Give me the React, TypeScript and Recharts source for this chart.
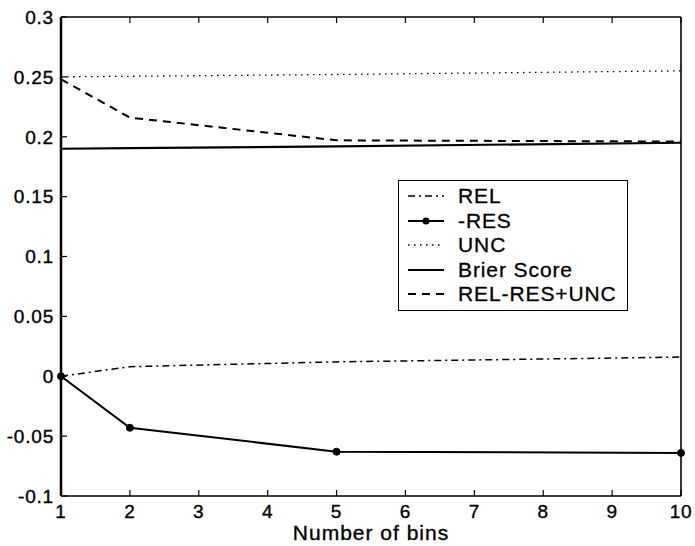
import React from 'react';
import { LineChart, Line, XAxis, YAxis, Legend } from 'recharts';

const bins = [1, 2, 5, 10];
const rel = [0, 0.008, 0.012, 0.016];
const negRes = [0, -0.043, -0.063, -0.064];
const unc = [0.25, 0.2505, 0.252, 0.255];
const brier = [0.19, 0.1905, 0.192, 0.195];
const relResUnc = [0.248, 0.216, 0.197, 0.196];

const xTicks = [1, 2, 3, 4, 5, 6, 7, 8, 9, 10];
const yTicks = [-0.1, -0.05, 0, 0.05, 0.1, 0.15, 0.2, 0.25, 0.3];

const data = bins.map((b, i) => ({
  bins: b,
  rel: rel[i],
  negRes: negRes[i],
  unc: unc[i],
  brier: brier[i],
  relResUnc: relResUnc[i],
}));

const font = '"Liberation Sans", Arial, sans-serif';

// legend order follows this list
const series = [
  { key: 'rel', name: 'REL', dash: '7 4 2 4', width: 1.5, dot: false },
  { key: 'negRes', name: '-RES', dash: undefined, width: 2, dot: true },
  { key: 'unc', name: 'UNC', dash: '1.5 4.5', width: 1.3, dot: false },
  { key: 'brier', name: 'Brier Score', dash: undefined, width: 2.2, dot: false },
  { key: 'relResUnc', name: 'REL-RES+UNC', dash: '8 6', width: 2, dot: false },
];

const BottomTick = ({ x, y, payload }: any) => (
  <g>
    <line x1={x} x2={x} y1={y} y2={y - 6} stroke="#000" strokeWidth={1.2} />
    <text x={x} y={y + 22} textAnchor="middle" fontSize={19} fill="#000" stroke="#000" strokeWidth={0.35}
      fontFamily={font} letterSpacing={0.8}>
      {payload.value}
    </text>
  </g>
);

const LeftTick = ({ x, y, payload }: any) => (
  <g>
    <line x1={x} x2={x + 6} y1={y} y2={y} stroke="#000" strokeWidth={1.2} />
    <text x={x - 7} y={y} dy="0.36em" textAnchor="end" fontSize={19} fill="#000" stroke="#000" strokeWidth={0.35}
      fontFamily={font} letterSpacing={0.8}>
      {payload.value}
    </text>
  </g>
);

const TopTick = ({ x, y }: any) => (
  <line x1={x} x2={x} y1={y} y2={y + 6} stroke="#000" strokeWidth={1.2} />
);

const RightTick = ({ x, y }: any) => (
  <line x1={x} x2={x - 6} y1={y} y2={y} stroke="#000" strokeWidth={1.2} />
);

const renderLegend = () => (
  <div
    style={{
      border: '1.5px solid #000',
      background: '#fff',
      padding: '3px 0 3px 9px',
      fontFamily: font,
      fontSize: 21,
      letterSpacing: 0.9,
      color: '#000',
      WebkitTextStroke: '0.3px #000',
    }}
  >
    {series.map((s) => (
      <div key={s.key} style={{ display: 'flex', alignItems: 'center', height: 24.5 }}>
        <svg width={36} height={12} style={{ display: 'block' }}>
          <line x1={0} x2={36} y1={6} y2={6} stroke="#000" strokeWidth={s.width} strokeDasharray={s.dash} />
          {s.dot && <circle cx={18} cy={6} r={3.5} fill="#000" />}
        </svg>
        <span style={{ marginLeft: 14, lineHeight: '24px' }}>{s.name}</span>
      </div>
    ))}
  </div>
);

export default function App() {
  return (
    <div style={{ position: 'absolute', left: 0, top: 0, background: '#fff' }}>
      <LineChart
        width={695}
        height={546}
        data={data}
        margin={{ top: 16, right: 13, bottom: 0, left: 6 }}
        style={{ fontFamily: font }}
      >
        <XAxis
          dataKey="bins"
          type="number"
          domain={[1, 10]}
          ticks={xTicks}
          interval={0}
          tickSize={0}
          tickMargin={0}
          tick={<BottomTick />}
          tickLine={false}
          axisLine={{ stroke: '#000', strokeWidth: 1.6 }}
          height={50}
          label={{
            value: 'Number of bins',
            position: 'insideBottom',
            offset: 6,
            fontSize: 21,
            fill: '#000',
            stroke: '#000',
            strokeWidth: 0.35,
            letterSpacing: 1,
          }}
        />
        <XAxis
          xAxisId="top"
          orientation="top"
          dataKey="bins"
          type="number"
          domain={[1, 10]}
          ticks={xTicks}
          interval={0}
          tickSize={0}
          tickMargin={0}
          tick={<TopTick />}
          tickLine={false}
          axisLine={{ stroke: '#000', strokeWidth: 1.6 }}
          height={1}
        />
        <YAxis
          type="number"
          domain={[-0.1, 0.3]}
          ticks={yTicks}
          interval={0}
          tickSize={0}
          tickMargin={0}
          tick={<LeftTick />}
          tickLine={false}
          axisLine={{ stroke: '#000', strokeWidth: 2.5 }}
          width={55}
        />
        <YAxis
          yAxisId="right"
          orientation="right"
          type="number"
          domain={[-0.1, 0.3]}
          ticks={yTicks}
          interval={0}
          tickSize={0}
          tickMargin={0}
          tick={<RightTick />}
          tickLine={false}
          axisLine={{ stroke: '#000', strokeWidth: 1.6 }}
          width={1}
        />
        <Legend
          layout="horizontal"
          verticalAlign="middle"
          align="center"
          content={renderLegend}
          wrapperStyle={{ left: 398, top: 180, width: 230 }}
        />
        {series.map((s) => (
          <Line
            key={s.key}
            dataKey={s.key}
            name={s.name}
            type="linear"
            stroke="#000"
            strokeWidth={s.width}
            strokeDasharray={s.dash}
            dot={s.dot ? { r: 3.5, fill: '#000', stroke: '#000', strokeWidth: 1 } : false}
            activeDot={false}
            isAnimationActive={false}
          />
        ))}
      </LineChart>
    </div>
  );
}
